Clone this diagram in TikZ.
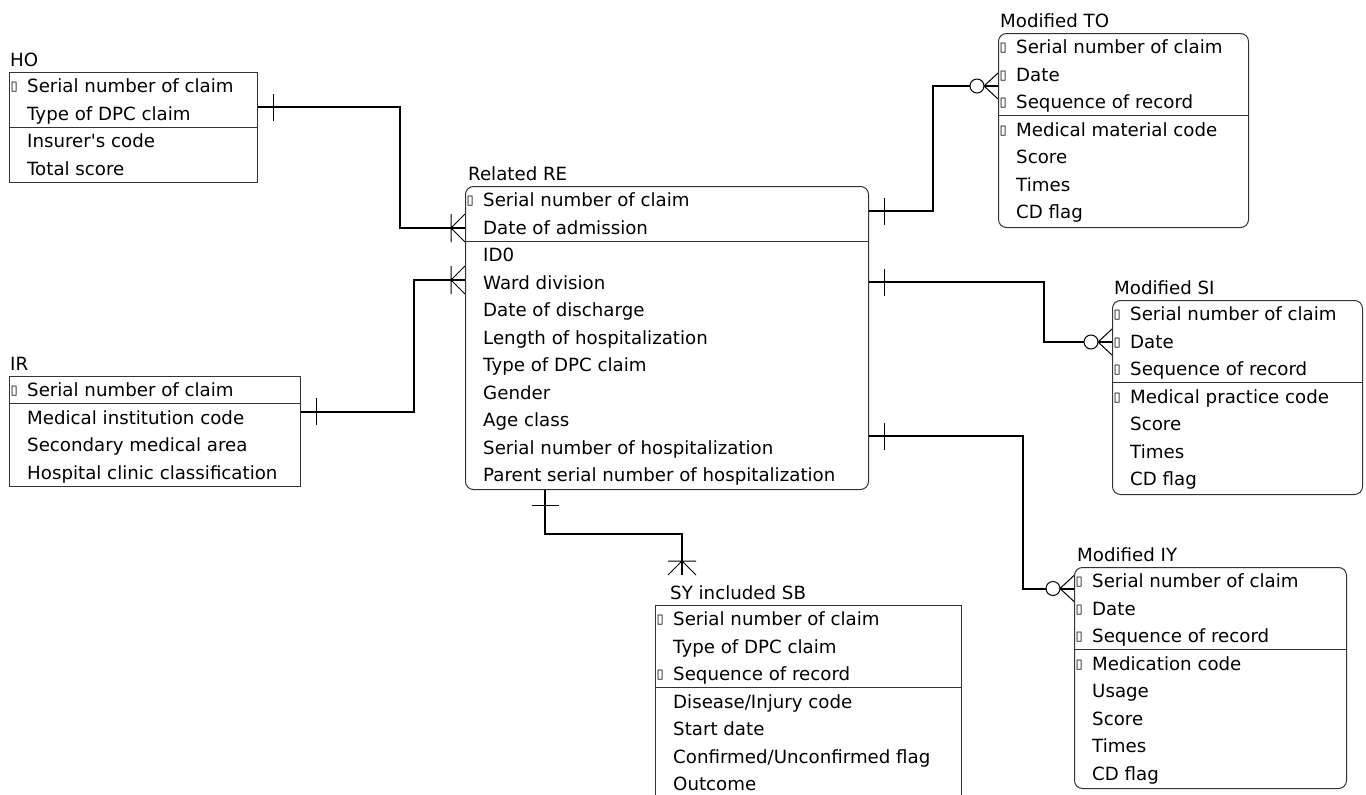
\documentclass[tikz,border=0pt]{standalone}
\usepackage{fontspec}
\setmainfont{DejaVu Sans}[Ligatures=TeXOff]
\newfontfamily\keyfont{DejaVu Sans}

% one entity: divider under #2 key rows, then the rows of #3 (flag/text)
\newcommand{\attrs}[3]{%
  \draw[div] ([yshift={-27.5pt*#2}]#1.north west) -- ([yshift={-27.5pt*#2}]#1.north east);
  \foreach \k/\t [count=\i] in {#3} {
    \node[lbl] (#1-\i) at ([xshift=18pt,yshift={-20.5pt-27.5pt*(\i-1)}]#1.north west) {\t};
    \ifnum\k=1 \node[keymark] at ([xshift=-9pt,yshift=2pt]#1-\i.base west) {▯};\fi
  }}

\begin{document}
\begin{tikzpicture}[x=1pt,y=-1pt,
  ent/.style={draw=black!80,line width=1pt,inner sep=0pt,anchor=north west},
  rent/.style={ent,rounded corners=8pt},
  lbl/.style={inner sep=0pt,anchor=base west,font=\fontsize{18.2}{20}\selectfont},
  keymark/.style={inner sep=0pt,anchor=base east,font=\keyfont\fontsize{13}{14}\selectfont},
  div/.style={draw=black!80,line width=1pt},
  rel/.style={line width=2pt},
  pics/onemark/.style={code={\draw[line width=1pt] (-15,-13.5) -- (-15,13.5);}},
  pics/manymark/.style={code={\draw[line width=1pt] (-14,-14) -- (-14,14) (0,-14) -- (-14,0) -- (0,14);}},
  pics/zmanymark/.style={code={
    \draw[line width=1pt] (0,-13) -- (-14,0) -- (0,13) (-14,0) -- (0,0);
    \draw[line width=1pt,fill=white] (-21,0) circle (7);}}]
  \path[use as bounding box,clip] (0,0) rectangle (1366,795);

  % entities
  \node[ent,minimum width=248,minimum height=110] (ho) at (9,72) {};
  \node[lbl] at ([xshift=1pt,yshift=5.5pt]ho.north west) {HO};
  \attrs{ho}{2}{1/Serial number of claim,0/Type of DPC claim,0/Insurer's code,0/Total score}

  \node[ent,minimum width=291,minimum height=110] (ir) at (9,376) {};
  \node[lbl] at ([xshift=1pt,yshift=5.5pt]ir.north west) {IR};
  \attrs{ir}{1}{1/Serial number of claim,0/Medical institution code,0/Secondary medical area,0/Hospital clinic classification}

  \node[rent,minimum width=403,minimum height=303] (re) at (465,186) {};
  \node[lbl] at ([xshift=3pt,yshift=5.5pt]re.north west) {Related RE};
  \attrs{re}{2}{1/Serial number of claim,0/Date of admission,0/ID0,0/Ward division,0/Date of discharge,0/Length of hospitalization,0/Type of DPC claim,0/Gender,0/Age class,0/Serial number of hospitalization,0/Parent serial number of hospitalization}

  \node[rent,minimum width=250,minimum height=194] (to) at (998,33) {};
  \node[lbl] at ([xshift=2pt,yshift=5.5pt]to.north west) {Modified TO};
  \attrs{to}{3}{1/Serial number of claim,1/Date,1/Sequence of record,1/Medical material code,0/Score,0/Times,0/CD flag}

  \node[rent,minimum width=250,minimum height=194] (si) at (1112,300) {};
  \node[lbl] at ([xshift=2pt,yshift=5.5pt]si.north west) {Modified SI};
  \attrs{si}{3}{1/Serial number of claim,1/Date,1/Sequence of record,1/Medical practice code,0/Score,0/Times,0/CD flag}

  \node[rent,minimum width=272,minimum height=221] (iy) at (1074,567) {};
  \node[lbl] at ([xshift=3pt,yshift=5.5pt]iy.north west) {Modified IY};
  \attrs{iy}{3}{1/Serial number of claim,1/Date,1/Sequence of record,1/Medication code,0/Usage,0/Score,0/Times,0/CD flag}

  \node[ent,minimum width=306,minimum height=220] (sy) at (655,605) {};
  \node[lbl] at ([xshift=15pt,yshift=5.5pt]sy.north west) {SY included SB};
  \attrs{sy}{3}{1/Serial number of claim,0/Type of DPC claim,1/Sequence of record,0/{Disease/Injury code},0/Start date,0/{Confirmed/Unconfirmed flag},0/Outcome}

  % relationships
  \coordinate (sytop) at ([xshift=27pt,yshift=30pt]sy.north west);
  \draw[rel] ([yshift=-35pt]ho.north east) -- ++(142,0) |- ([yshift=-42pt]re.north west);
  \draw[rel] ([yshift=-35.5pt]ir.north east) -- ++(113,0) |- ([yshift=-94pt]re.north west);
  \draw[rel] ([yshift=-25pt]re.north east) -- ++(64,0) |- ([yshift=-53pt]to.north west);
  \draw[rel] ([yshift=-96pt]re.north east) -- ++(175,0) |- ([yshift=-42pt]si.north west);
  \draw[rel] ([yshift=-250pt]re.north east) -- ++(154,0) |- ([yshift=-21.5pt]iy.north west);
  \draw[rel] ([xshift=80pt]re.south west) -- ++(0,44) -| (sytop);

  \pic[rotate=180] at ([yshift=-35pt]ho.north east) {onemark};
  \pic[rotate=180] at ([yshift=-35.5pt]ir.north east) {onemark};
  \pic at ([yshift=-42pt]re.north west) {manymark};
  \pic at ([yshift=-94pt]re.north west) {manymark};
  \pic[rotate=180] at ([yshift=-25pt]re.north east) {onemark};
  \pic[rotate=180] at ([yshift=-96pt]re.north east) {onemark};
  \pic[rotate=180] at ([yshift=-250pt]re.north east) {onemark};
  \pic[rotate=90] at ([xshift=80pt]re.south west) {onemark};
  \pic at ([yshift=-53pt]to.north west) {zmanymark};
  \pic at ([yshift=-42pt]si.north west) {zmanymark};
  \pic at ([yshift=-21.5pt]iy.north west) {zmanymark};
  \pic[rotate=-90] at (sytop) {manymark};
\end{tikzpicture}
\end{document}
